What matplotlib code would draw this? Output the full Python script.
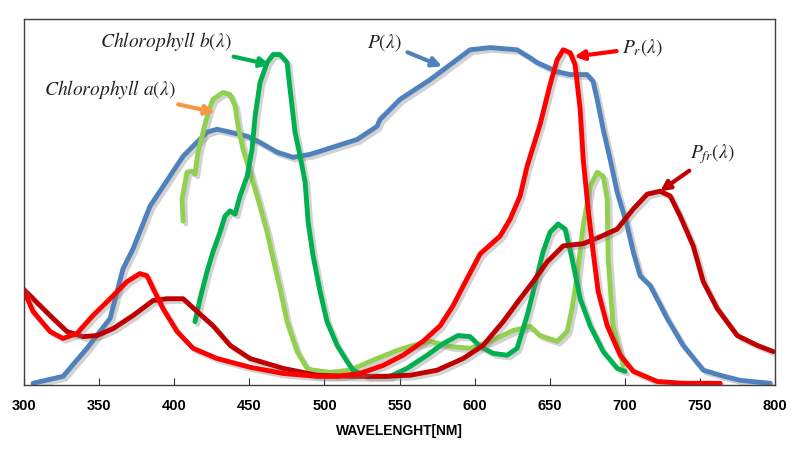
import numpy as np
import matplotlib
matplotlib.use('Agg')
import matplotlib.pyplot as plt
import matplotlib.patheffects as pe

plt.rcParams['mathtext.fontset'] = 'stix'

# P(lambda)
p_x = [306.0, 326.0, 341.9, 357.3, 365.9, 372.6, 383.9, 405.9, 421.8, 428.5, 437.2, 448.5, 457.1,
       468.4, 479.1, 490.4, 505.7, 521.7, 535.0, 537.0, 550.3, 570.3, 583.6, 596.9, 610.3, 628.2,
       636.9, 641.5, 654.9, 663.5, 674.8, 678.8, 681.5, 685.5, 690.1, 694.8, 701.5, 705.5, 710.1,
       716.8, 728.1, 738.7, 752.1, 763.4, 776.7, 796.7]
p_y = [0, 1.9, 9.6, 17.8, 31.4, 36.9, 48.6, 62.3, 68.9, 69.7, 68.9, 67.8, 66.1,
       63.4, 62.0, 62.8, 64.8, 66.9, 70.5, 72.4, 77.9, 83.3, 87.4, 91.5, 92.1, 91.5,
       89.3, 88.0, 85.5, 84.7, 84.7, 82.8, 77.9, 69.7, 61.5, 52.5, 43.2, 36.1, 29.5,
       26.8, 17.8, 10.4, 3.6, 2.2, 0.8, 0]

# Chlorophyll a
ca_x = [405.9, 405.2, 408.5, 411.9, 413.8, 415.8, 419.2, 422.5, 425.8, 432.5, 437.2, 440.5, 442.5,
        445.8, 450.5, 457.1, 461.8, 465.8, 470.4, 475.1, 481.8, 488.4, 492.4, 503.7, 517.0, 535.0,
        548.3, 559.0, 570.3, 583.6, 596.9, 610.3, 625.6, 636.9, 643.5, 654.9, 661.5, 664.8, 668.2,
        672.2, 676.9, 681.5, 685.5, 688.2, 688.8, 692.1, 695.5, 698.8]
ca_y = [44.5, 50.5, 57.9, 58.2, 57.4, 63.4, 68.9, 74.3, 77.9, 79.8, 79.2, 76.0, 70.5,
        64.2, 57.9, 48.6, 41.5, 34.2, 26.0, 16.9, 8.7, 4.1, 3.6, 3.0, 3.6, 6.8,
        9.0, 10.4, 11.5, 10.1, 9.6, 11.5, 14.5, 15.6, 13.1, 11.5, 14.2, 20.5, 29.5,
        43.2, 54.1, 57.9, 56.8, 50.5, 34.2, 15.8, 10.4, 4.9]

# Chlorophyll b
cb_x = [413.8, 417.2, 421.8, 425.8, 430.5, 433.8, 437.2, 440.5, 443.8, 448.5, 451.8, 453.8, 457.1,
        461.8, 465.8, 470.4, 475.1, 477.1, 480.4, 483.8, 487.1, 489.1, 492.4, 497.1, 501.7, 508.4,
        515.0, 519.0, 528.4, 543.7, 555.0, 568.3, 579.0, 588.9, 596.9, 603.6, 612.3, 621.6, 628.2,
        634.9, 638.9, 645.5, 650.2, 655.5, 660.2, 664.8, 670.2, 676.8, 685.5, 694.8, 700.1]
cb_y = [16.9, 23.2, 30.6, 36.1, 41.5, 45.9, 47.3, 46.4, 51.4, 56.8, 64.2, 73.2, 82.5,
        88.0, 90.2, 90.2, 88.0, 80.6, 68.9, 62.3, 55.2, 44.3, 35.0, 25.1, 16.9, 10.4,
        6.0, 3.6, 1.9, 1.9, 4.1, 7.7, 10.9, 13.1, 12.8, 10.1, 8.2, 7.7, 9.6,
        18.6, 25.1, 36.1, 41.5, 43.7, 42.3, 34.2, 23.2, 15.8, 8.7, 4.1, 3.3]

# Pr(lambda)
pr_x = [299.3, 306.0, 317.3, 326.0, 335.3, 345.9, 357.3, 368.6, 377.2, 381.9, 385.9, 392.5, 401.9,
        412.5, 428.5, 450.5, 472.4, 495.1, 508.4, 523.7, 539.0, 552.3, 565.6, 577.0, 585.6, 594.9,
        603.6, 616.9, 623.6, 630.2, 634.9, 643.5, 650.2, 654.9, 658.9, 663.5, 666.8, 670.2, 672.2,
        675.5, 678.8, 682.2, 688.2, 696.8, 705.5, 721.4, 738.7, 763.4]
pr_y = [26.0, 19.7, 14.2, 12.3, 13.7, 18.6, 23.2, 27.9, 30.1, 29.5, 26.0, 20.5, 14.2,
        9.6, 6.8, 4.4, 2.7, 1.9, 1.9, 2.7, 4.9, 7.7, 11.5, 15.8, 21.3, 28.7,
        35.5, 40.4, 45.1, 51.4, 59.6, 71.0, 82.0, 88.8, 91.5, 90.7, 87.4, 75.1, 61.5,
        47.8, 36.1, 25.1, 15.8, 7.7, 3.3, 0.5, 0, 0]

# Pfr(lambda)
pfr_x = [299.3, 310.7, 319.3, 328.6, 339.3, 348.6, 359.3, 372.6, 385.9, 395.2, 405.9, 415.2, 425.8,
         437.2, 450.5, 472.4, 495.1, 517.0, 539.0, 557.0, 575.0, 592.3, 605.6, 618.9, 630.2, 638.9,
         648.2, 658.9, 672.2, 683.5, 694.8, 705.5, 714.8, 723.4, 730.1, 736.7, 745.4, 752.1, 761.4,
         774.7, 788.0, 798.7]
pfr_y = [26.0, 21.3, 17.8, 14.2, 12.8, 13.1, 15.0, 18.6, 22.7, 23.2, 23.2, 19.7, 15.8,
         10.4, 6.8, 4.1, 2.2, 1.9, 1.9, 2.2, 3.6, 6.8, 10.4, 16.9, 23.2, 27.9,
         33.3, 37.7, 38.3, 40.2, 42.3, 47.8, 51.9, 52.7, 51.4, 45.9, 37.7, 27.9, 20.5,
         13.1, 10.4, 8.7]

xticks = list(range(300, 801, 50))

fig = plt.figure(figsize=(8, 4.59), dpi=100)
ax = fig.add_axes([0.03, 0.161, 0.939, 0.798])

shadow = [pe.SimpleLineShadow(offset=(2, -2), shadow_color='gray', alpha=0.35), pe.Normal()]
style = dict(lw=3.5, path_effects=shadow, solid_capstyle='round', solid_joinstyle='round')

ax.plot(p_x, p_y, color='#4F81BD', **style)
ax.plot(ca_x, ca_y, color='#92D050', **style)
ax.plot(cb_x, cb_y, color='#00B050', **style)
ax.plot(pfr_x, pfr_y, color='#C00000', **style)
ax.plot(pr_x, pr_y, color='#FF0000', **style)

ax.set_xlim(300, 800)
ax.set_ylim(-0.5, 100)
ax.set_yticks([])
ax.set_xticks(xticks)
ax.tick_params(axis='x', direction='in', length=5, pad=10, color='#333333')
for lab in ax.get_xticklabels():
    lab.set_fontweight('bold')
    lab.set_fontsize(10.5)
    lab.set_family(['Liberation Sans Narrow', 'Liberation Sans'])
for s in ax.spines.values():
    s.set_color('#404040')
    s.set_linewidth(1)

ax.set_xlabel('WAVELENGHT[NM]', fontsize=10, fontweight='bold',
              family=['Liberation Sans Narrow', 'Liberation Sans'], labelpad=8)

def note(text, xy, xytext, color, ha):
    ax.annotate(text, xy=xy, xytext=xytext, ha=ha, va='center', fontsize=14, color='#222222',
                arrowprops=dict(arrowstyle='-|>', color=color, lw=3, mutation_scale=14,
                                shrinkA=2, shrinkB=0))

note(r'$Chlorophyll\ b(\lambda)$', (463.8, 87.4), (438.5, 93.7), '#00B050', 'right')
note(r'$Chlorophyll\ a(\lambda)$', (427.2, 74.3), (401.2, 80.6), '#F79646', 'right')
note(r'$P(\lambda)$', (578.3, 86.9), (551.7, 93.4), '#4F81BD', 'right')
note(r'$P_r(\lambda)$', (666.2, 89.6), (698.1, 92.1), '#FF0000', 'left')
note(r'$P_{fr}(\lambda)$', (723.4, 52.7), (743.4, 62.8), '#C00000', 'left')

fig.savefig('out.png', dpi=100)
